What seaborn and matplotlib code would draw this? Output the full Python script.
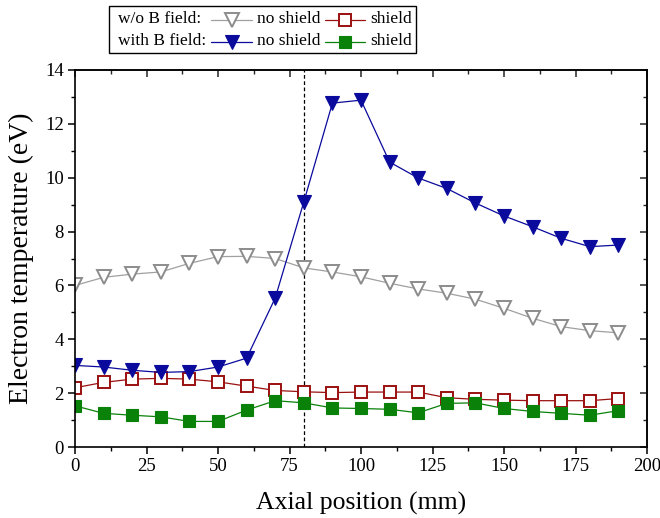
import numpy as np
import pandas as pd
import matplotlib
matplotlib.use("Agg")
import matplotlib.pyplot as plt
import seaborn as sns
from matplotlib.lines import Line2D
from matplotlib.ticker import MultipleLocator
from matplotlib.offsetbox import TextArea, DrawingArea, HPacker, VPacker, AnchoredOffsetbox

# ---------------- data ----------------
positions = [0, 10, 20, 30, 40, 50, 60, 70, 80, 90, 100, 110, 120, 130, 140, 150, 160, 170, 180, 190]
te_noB_noshield = [6.0, 6.3, 6.42, 6.5, 6.82, 7.07, 7.08, 7.0, 6.65, 6.5, 6.32, 6.08, 5.87, 5.71, 5.49, 5.15, 4.78, 4.47, 4.32, 4.24]
te_noB_shield = [2.2, 2.4, 2.52, 2.55, 2.52, 2.42, 2.26, 2.1, 2.05, 2.02, 2.04, 2.04, 2.04, 1.83, 1.77, 1.74, 1.72, 1.72, 1.72, 1.8]
te_B_noshield = [3.03, 2.97, 2.85, 2.77, 2.8, 2.97, 3.3, 5.53, 9.1, 12.77, 12.88, 10.58, 9.99, 9.6, 9.06, 8.58, 8.18, 7.75, 7.44, 7.5]
te_B_shield = [1.53, 1.25, 1.18, 1.12, 0.95, 0.95, 1.37, 1.72, 1.64, 1.45, 1.43, 1.4, 1.27, 1.62, 1.64, 1.43, 1.32, 1.25, 1.18, 1.35]
marker_line_x = 80
row_headers = ["w/o B field:", "with B field:"]
series_labels = ["no shield", "shield"]

# ---------------- style ----------------
sns.set_theme(style="ticks")
plt.rcParams["font.family"] = ["Liberation Serif", "DejaVu Serif"]

GRAY = "#8c8c8c"
GRAY_LINE = "#a0a0a0"
RED = "#9b1010"
BLUE = "#0a0a9c"
GREEN = "#0a820a"

fig = plt.figure(figsize=(6.6, 5.18), dpi=100)
ax = fig.add_axes([75 / 660, 1 - 447 / 518, (647 - 75) / 660, (447 - 70) / 518])

styles = [
    (te_noB_noshield, dict(color=GRAY_LINE, marker="v", markersize=10.5, markerfacecolor="white",
                           markeredgecolor=GRAY, markeredgewidth=1.4)),
    (te_noB_shield, dict(color=RED, marker="s", markersize=8.5, markerfacecolor="white",
                         markeredgecolor=RED, markeredgewidth=1.4)),
    (te_B_noshield, dict(color=BLUE, marker="v", markersize=10.5, markerfacecolor=BLUE,
                         markeredgecolor=BLUE, markeredgewidth=0.8)),
    (te_B_shield, dict(color=GREEN, marker="s", markersize=8.5, markerfacecolor=GREEN,
                       markeredgecolor=GREEN, markeredgewidth=0.8)),
]
for vals, kw in styles:
    sns.lineplot(x=positions, y=vals, ax=ax, linewidth=0.9, legend=False, **kw)

ax.axvline(marker_line_x, color="black", linestyle=(0, (3, 2)), linewidth=0.9, zorder=0.5)

ax.set_xlim(0, 200)
ax.set_ylim(0, 14)
ax.xaxis.set_major_locator(MultipleLocator(25))
ax.xaxis.set_minor_locator(MultipleLocator(12.5))
ax.yaxis.set_major_locator(MultipleLocator(2))
ax.yaxis.set_minor_locator(MultipleLocator(1))
for sp in ax.spines.values():
    sp.set_visible(True)
    sp.set_linewidth(1.2)
    sp.set_color("black")
ax.tick_params(which="major", direction="out", length=5, width=1.1, labelsize=13.5, colors="black", pad=3)
ax.tick_params(which="minor", direction="out", length=3, width=1.0, colors="black")

# mirrored ticks on top/right pointing inward
secx = ax.secondary_xaxis("top")
secx.xaxis.set_major_locator(MultipleLocator(25))
secx.xaxis.set_minor_locator(MultipleLocator(12.5))
secx.tick_params(which="major", direction="in", length=5, width=1.1, labeltop=False)
secx.tick_params(which="minor", direction="in", length=3, width=1.0)
secy = ax.secondary_yaxis("right")
secy.yaxis.set_major_locator(MultipleLocator(2))
secy.yaxis.set_minor_locator(MultipleLocator(1))
secy.tick_params(which="major", direction="in", length=5, width=1.1, labelright=False)
secy.tick_params(which="minor", direction="in", length=3, width=1.0)
for s in (secx, secy):
    for sp in s.spines.values():
        sp.set_linewidth(1.2)

ax.set_xlabel("Axial position (mm)", fontsize=18.5, labelpad=12, color="black")
ax.set_ylabel("Electron temperature (eV)", fontsize=20, labelpad=8, color="black")

# ---------------- legend (custom, two rows with headers) ----------------
FS = 12.5
tp = dict(fontsize=FS, color="black")

# measure the height of one text row so handles line up with the text rows
fig.canvas.draw()
renderer = fig.canvas.get_renderer()
probe = TextArea(row_headers[0], textprops=tp)
probe.set_figure(fig)
row_h_pt = probe.get_bbox(renderer).height * 72.0 / fig.dpi
row_pitch_pt = 22 * 72.0 / fig.dpi
vsep = max(row_pitch_pt - row_h_pt, 0)


def handle(kw, w=29, h=row_h_pt):
    da = DrawingArea(w, h, 0, 0)
    yc = h * 0.42
    da.add_artist(Line2D([0, w], [yc, yc], color=kw["color"], linewidth=0.9))
    da.add_artist(Line2D([w / 2], [yc], linestyle="none", marker=kw["marker"],
                         markersize=kw["markersize"] * 0.95, markerfacecolor=kw["markerfacecolor"],
                         markeredgecolor=kw["markeredgecolor"], markeredgewidth=kw["markeredgewidth"]))
    return da


col_pad = DrawingArea(0, 1, 0, 0)
col_head = VPacker(children=[TextArea(row_headers[0], textprops=tp), TextArea(row_headers[1], textprops=tp)],
                   align="left", pad=0, sep=vsep)
col_h1 = VPacker(children=[handle(styles[0][1]), handle(styles[2][1])], align="center", pad=0, sep=vsep)
col_l1 = VPacker(children=[TextArea(series_labels[0], textprops=tp), TextArea(series_labels[0], textprops=tp)],
                 align="left", pad=0, sep=vsep)
col_h2 = VPacker(children=[handle(styles[1][1]), handle(styles[3][1])], align="center", pad=0, sep=vsep)
col_l2 = VPacker(children=[TextArea(series_labels[1], textprops=tp), TextArea(series_labels[1], textprops=tp)],
                 align="left", pad=0, sep=vsep)
box = HPacker(children=[col_pad, col_head, col_h1, col_l1, col_h2, col_l2], align="top", pad=0, sep=3.5)
anch = AnchoredOffsetbox(loc="upper left", child=box, pad=0.3, borderpad=0, frameon=True,
                         bbox_to_anchor=(109 / 660, 1 - 6 / 518), bbox_transform=fig.transFigure)
anch.patch.set_boxstyle("square", pad=0)
anch.patch.set_edgecolor("black")
anch.patch.set_linewidth(1.0)
fig.add_artist(anch)

fig.savefig("out.png", dpi=100)
